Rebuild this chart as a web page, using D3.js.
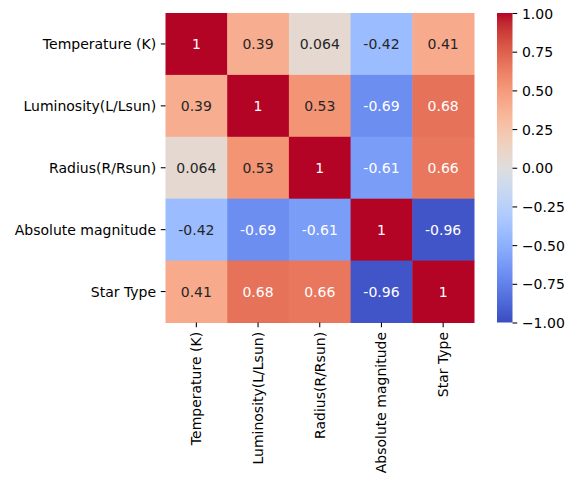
<!DOCTYPE html>
<html>
<head>
<meta charset="utf-8">
<script src="https://cdn.jsdelivr.net/npm/d3@7"></script>
<style>
  html, body { margin: 0; padding: 0; background: #fff; }
  svg { display: block; }
  text { font-family: "DejaVu Sans", sans-serif; }
</style>
</head>
<body>
<svg id="chart" width="566" height="481"></svg>
<script>
// Variables of the stellar dataset
const categories = ["Temperature (K)", "Luminosity(L/Lsun)", "Radius(R/Rsun)", "Absolute magnitude", "Star Type"];

// Pearson correlation matrix, one row per variable
const rowTemperature = [1, 0.39, 0.064, -0.42, 0.41];
const rowLuminosity  = [0.39, 1, 0.53, -0.69, 0.68];
const rowRadius      = [0.064, 0.53, 1, -0.61, 0.66];
const rowAbsMag      = [-0.42, -0.69, -0.61, 1, -0.96];
const rowStarType    = [0.41, 0.68, 0.66, -0.96, 1];
const matrix = [rowTemperature, rowLuminosity, rowRadius, rowAbsMag, rowStarType];

// Colour bar ticks
const colorbarTicks = [-1, -0.75, -0.5, -0.25, 0, 0.25, 0.5, 0.75, 1];

// Diverging "coolwarm" palette, evenly spaced from -1 to 1
const coolwarm = [
  [59,76,192],[68,90,204],[77,104,215],[87,117,225],[98,130,234],[108,142,241],
  [119,154,247],[130,165,251],[141,176,254],[152,185,255],[163,194,255],[174,201,253],
  [184,208,249],[194,213,244],[204,217,238],[213,219,230],[221,221,221],[229,216,209],
  [236,211,197],[241,204,184],[245,196,172],[247,187,159],[247,177,147],[247,166,134],
  [244,154,123],[241,141,111],[236,127,99],[229,112,89],[222,96,77],[213,80,66],
  [203,62,56],[192,40,47],[180,4,38]
].map(c => d3.rgb(c[0], c[1], c[2]).formatHex());

(function draw() {
  const svg = d3.select("#chart");
  svg.append("rect").attr("width", 566).attr("height", 481).attr("fill", "#fff");

  const FONT = 14;
  const TICK = 4.7;
  const PAD = 4.7;

  const plotLeft = 165.5, plotRight = 474, plotTop = 13, plotBottom = 322.5;

  const x = d3.scaleBand().domain(categories).range([plotLeft, plotRight]).padding(0);
  const y = d3.scaleBand().domain(categories).range([plotTop, plotBottom]).padding(0);

  const stops = coolwarm.map((_, i) => -1 + 2 * i / (coolwarm.length - 1));
  const color = d3.scaleLinear().domain(stops).range(coolwarm).interpolate(d3.interpolateRgb).clamp(true);

  // Dark or white annotation text, chosen from the cell's relative luminance
  function textColor(fill) {
    const c = d3.rgb(fill);
    const lin = v => { v /= 255; return v <= 0.03928 ? v / 12.92 : Math.pow((v + 0.055) / 1.055, 2.4); };
    const lum = 0.2126 * lin(c.r) + 0.7152 * lin(c.g) + 0.0722 * lin(c.b);
    return lum > 0.408 ? "#262626" : "#ffffff";
  }

  const cells = [];
  matrix.forEach((row, i) => row.forEach((v, j) => cells.push({ r: categories[i], c: categories[j], v })));

  // Two significant digits, trailing zeros dropped, plain hyphen for negatives
  const fmt2 = d3.format(".2~g");
  const fmt = v => fmt2(v).replace("\u2212", "-");

  const g = svg.append("g");
  g.selectAll("rect.cell").data(cells).join("rect")
    .attr("class", "cell")
    .attr("x", d => x(d.c))
    .attr("y", d => y(d.r))
    .attr("width", x.bandwidth() + 0.5)
    .attr("height", y.bandwidth() + 0.5)
    .attr("fill", d => color(d.v));

  g.selectAll("text.ann").data(cells).join("text")
    .attr("class", "ann")
    .attr("x", d => x(d.c) + x.bandwidth() / 2)
    .attr("y", d => y(d.r) + y.bandwidth() / 2)
    .attr("text-anchor", "middle")
    .attr("dominant-baseline", "central")
    .attr("font-size", FONT)
    .attr("fill", d => textColor(color(d.v)))
    .text(d => fmt(d.v));

  // Axes
  const xAxis = svg.append("g")
    .attr("transform", `translate(0,${plotBottom})`)
    .call(d3.axisBottom(x).tickSize(TICK).tickPadding(PAD));
  xAxis.selectAll("text")
    .attr("font-size", FONT)
    .attr("fill", "#000")
    .attr("text-anchor", "end")
    .attr("dominant-baseline", "central")
    .attr("dy", null)
    .attr("y", 0)
    .attr("x", 0)
    .attr("transform", `translate(0,${TICK + PAD}) rotate(-90)`);

  const yAxis = svg.append("g")
    .attr("transform", `translate(${plotLeft},0)`)
    .call(d3.axisLeft(y).tickSize(TICK).tickPadding(PAD));
  yAxis.selectAll("text")
    .attr("font-size", FONT)
    .attr("fill", "#000")
    .attr("dy", null)
    .attr("dominant-baseline", "central");

  [xAxis, yAxis].forEach(a => {
    a.select(".domain").remove();
    a.selectAll("line").attr("stroke", "#000").attr("stroke-width", 1.07);
  });

  // Colour bar
  const cbLeft = 497, cbWidth = 15.5;
  const cb = d3.scaleLinear().domain([-1, 1]).range([plotBottom, plotTop]);
  const defs = svg.append("defs");
  const grad = defs.append("linearGradient").attr("id", "cbgrad")
    .attr("x1", 0).attr("y1", 1).attr("x2", 0).attr("y2", 0);
  grad.selectAll("stop").data(stops).join("stop")
    .attr("offset", d => (d + 1) / 2)
    .attr("stop-color", d => color(d));
  svg.append("rect")
    .attr("x", cbLeft).attr("y", plotTop)
    .attr("width", cbWidth).attr("height", plotBottom - plotTop)
    .attr("fill", "url(#cbgrad)");

  const cAxis = svg.append("g")
    .attr("transform", `translate(${cbLeft + cbWidth},0)`)
    .call(d3.axisRight(cb).tickValues(colorbarTicks).tickFormat(d3.format(".2f")).tickSize(TICK).tickPadding(PAD));
  cAxis.select(".domain").remove();
  cAxis.selectAll("line").attr("stroke", "#000").attr("stroke-width", 1.07);
  cAxis.selectAll("text")
    .attr("font-size", FONT)
    .attr("fill", "#000")
    .attr("dy", null)
    .attr("dominant-baseline", "central");
})();
</script>
</body>
</html>
